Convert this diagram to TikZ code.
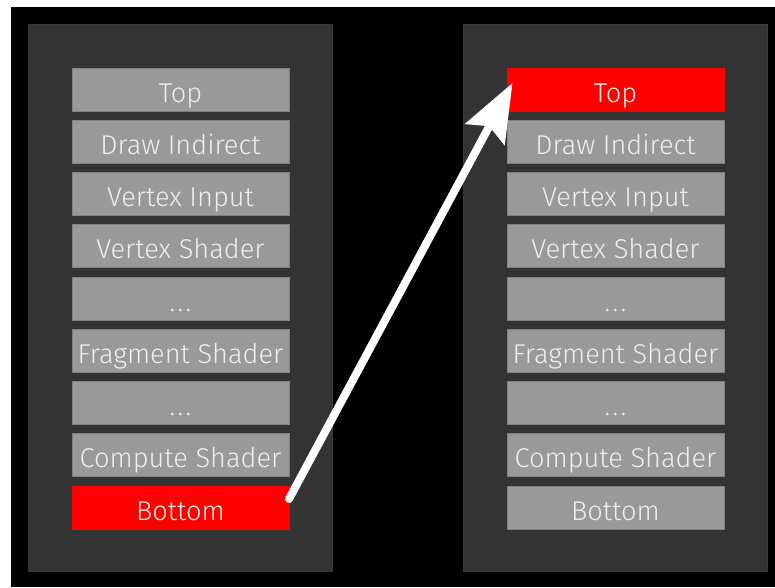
\documentclass[tikz,border=0pt]{standalone}
\usepackage{fontspec}
\setmainfont{Fira Sans}[UprightFont={* Light}]
\usetikzlibrary{arrows.meta}
\definecolor{panelc}{HTML}{333333}
\definecolor{panelb}{HTML}{3A3A3A}
\definecolor{boxc}{HTML}{999999}
\definecolor{boxb}{HTML}{808080}
\definecolor{txt}{HTML}{EEEEEE}
\newcommand{\mydots}{\makebox[0pt]{.}\hspace{8pt}\makebox[0pt]{.}\hspace{8pt}\makebox[0pt]{.}}
\tikzset{
  panel/.style={fill=panelc, draw=panelb, line width=1pt},
  stagebox/.style={fill=boxc, draw=boxb, line width=1pt},
  hotbox/.style={fill=red, draw=red, line width=1pt},
  lbl/.style={text=txt, font=\fontsize{27.2}{27.2}\selectfont, anchor=base, inner sep=0pt},
  bigarrow/.style={draw=white, line width=8pt, line cap=round,
    -{Stealth[length=58pt, width=44pt, inset=9pt]}}
}
\begin{document}
\begin{tikzpicture}[x=1pt, y=-1pt]
\useasboundingbox (0,0) rectangle (775,587);
\fill[white] (0,0) rectangle (775,587);
\fill[black] (11,7) rectangle (775,587);
\draw[panel] (28.5,24.5) rectangle (332.5,571.5);
\draw[panel] (463.5,24.5) rectangle (767.5,571.5);
\foreach \i/\t in {0/Top,1/Draw Indirect,2/Vertex Input,3/Vertex Shader,4/\mydots,5/Fragment Shader,6/\mydots,7/Compute Shader,8/Bottom}{
  \pgfmathsetmacro{\yt}{68+\i*52.25}
  \pgfmathsetmacro{\yb}{\yt+43}
  \pgfmathsetmacro{\yc}{\yt+34}
  % left column
  \ifnum\i=8
    \draw[hotbox] (72,\yt) rectangle (289,\yb);
  \else
    \draw[stagebox] (72,\yt) rectangle (289,\yb);
  \fi
  \node[lbl] (L\i) at (180.5,\yc) {\t};
  % right column
  \ifnum\i=0
    \draw[hotbox] (507,\yt) rectangle (724,\yb);
  \else
    \draw[stagebox] (507,\yt) rectangle (724,\yb);
  \fi
  \node[lbl] (R\i) at (615.5,\yc) {\t};
}
\coordinate (from) at (289,499);
\coordinate (to) at (512.5,83);
\draw[bigarrow] (from) -- (to);
\end{tikzpicture}
\end{document}
